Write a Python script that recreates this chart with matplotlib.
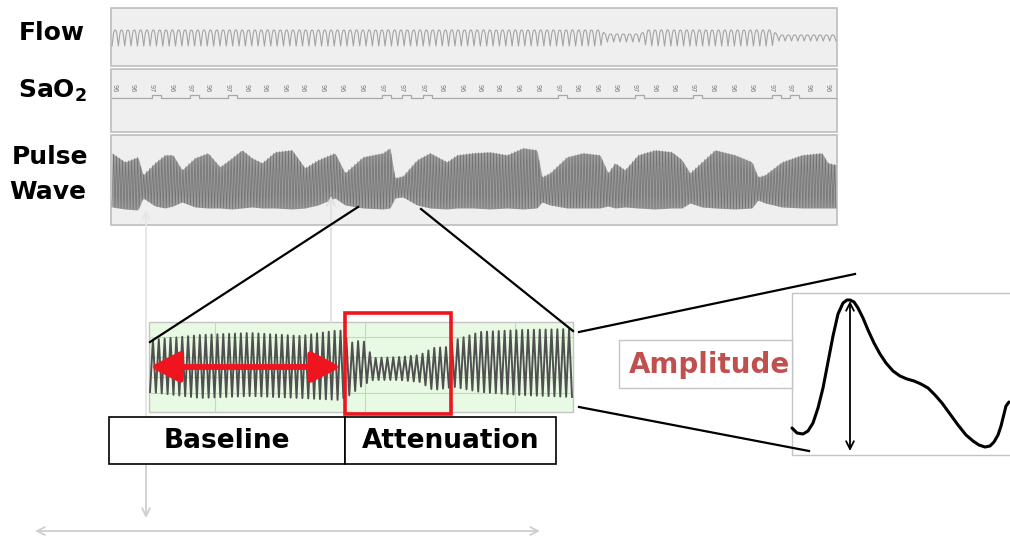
import matplotlib
matplotlib.use("Agg")
import matplotlib.pyplot as plt
import numpy as np
from matplotlib.patches import Rectangle, FancyArrowPatch

# ---- data (pixel coords of the original slide) ----
# panels of the overnight recording: (left, top, right, bottom)
flow_box = (111, 8, 837, 66)
sao2_box = (111, 69, 837, 132)
pulse_box = (111, 135, 837, 225)

# flow trace: number of breaths and amplitude knots
flow_cycles = 114
flow_knot_x = [111, 600, 606, 640, 648, 772, 778, 837]
flow_knot_amp = [8, 8, 4, 4, 8, 8, 3, 3]
flow_shape = [-1.0, -0.2, 0.6, 0.95, 1.0, 0.95, 0.6, -0.2]   # one breath

# SaO2 readings printed on the trace
sao2_x = [115, 133, 152, 172, 190, 208, 228, 247, 265, 285, 303, 323, 342, 362,
          382, 402, 423, 442, 462, 480, 498, 518, 538, 558, 577, 597, 616, 635,
          655, 674, 693, 713, 733, 752, 772, 790, 809, 828]
sao2_val = [96, 96, 97, 96, 97, 96, 97, 96, 96, 96, 96, 96, 96, 96,
            97, 97, 97, 96, 96, 96, 96, 96, 96, 97, 96, 96, 96, 97,
            96, 96, 97, 96, 96, 96, 97, 97, 96, 96]

# pulse wave envelope (upper / lower edge, y pixels)
pulse_beats = 240
pulse_env_x = [112, 125, 138, 143, 155, 165, 173, 182, 195, 208, 220, 232, 242,
               252, 262, 275, 292, 305, 318, 335, 345, 363, 383, 390, 395, 403,
               417, 430, 447, 457, 473, 490, 507, 523, 537, 542, 550, 567, 583,
               600, 608, 615, 625, 638, 655, 672, 682, 690, 702, 715, 735, 752,
               758, 765, 782, 802, 822, 828, 837]
pulse_env_top = [153, 162, 157, 175, 163, 155, 155, 170, 158, 153, 167, 158, 150,
                 158, 163, 152, 150, 168, 160, 153, 173, 157, 153, 148, 178, 176,
                 160, 153, 162, 155, 153, 152, 155, 148, 150, 177, 173, 157, 153,
                 155, 173, 163, 170, 155, 150, 152, 160, 173, 162, 150, 155, 162,
                 177, 175, 162, 155, 153, 163, 165]
pulse_env_bot = [207, 209, 210, 198, 206, 208, 206, 202, 207, 208, 208, 209, 208,
                 207, 208, 208, 209, 208, 205, 198, 205, 208, 209, 208, 198, 197,
                 205, 208, 209, 208, 208, 209, 208, 209, 208, 202, 205, 208, 208,
                 208, 206, 208, 207, 208, 209, 208, 208, 203, 207, 208, 209, 208,
                 200, 203, 207, 208, 208, 208, 208]

# zoomed segment (baseline + attenuation)
zoom_box = (149, 322, 573, 412)
zoom_beats = 72
zoom_env_x = [150, 200, 250, 300, 340, 350, 363, 373, 400, 420, 433, 447, 455,
              480, 520, 573]
zoom_env_top = [340, 335, 333, 336, 330, 343, 340, 358, 357, 355, 348, 347, 340,
                332, 330, 329]
zoom_env_bot = [392, 398, 396, 398, 400, 395, 385, 380, 380, 382, 390, 388, 387,
                392, 395, 397]
zoom_grid_x = [215, 365, 515]
zoom_grid_y = [337, 357, 377, 393]

# single pulse in the amplitude panel
beat_x = [792, 797, 803, 808, 813, 818, 823, 828, 833, 838, 843, 847, 850, 854,
          858, 863, 868, 874, 880, 886, 893, 900, 907, 914, 921, 928, 935, 942,
          950, 958, 966, 973, 979, 985, 990, 994, 998, 1001, 1004, 1006, 1009]
beat_y = [428, 433, 434, 431, 423, 408, 388, 362, 336, 314, 303, 300, 300, 302,
          308, 318, 330, 343, 354, 363, 371, 376, 379, 381, 384, 388, 395, 403,
          414, 425, 435, 441, 445, 447, 446, 442, 435, 426, 414, 406, 402]

panel_face = "#efefef"
panel_edge = "#bdbdbd"
red = "#f0141e"


def envelope_zigzag(x0, x1, n, kx, top, bot):
    xs = np.linspace(x0, x1, 2 * n + 1)
    up = np.interp(xs, kx, top)
    lo = np.interp(xs, kx, bot)
    ys = np.where(np.arange(len(xs)) % 2 == 0, lo, up)
    return xs, ys


def box(b, face=panel_face, edge=panel_edge, lw=1.2, z=1):
    ax.add_patch(Rectangle((b[0], b[1]), b[2] - b[0], b[3] - b[1],
                           facecolor=face, edgecolor=edge, lw=lw, zorder=z))


fig = plt.figure(figsize=(10.1, 5.38), dpi=100)
ax = fig.add_axes([0, 0, 1, 1])
ax.set_xlim(0, 1010)
ax.set_ylim(538, 0)
ax.axis("off")

# labels on the left
lab = dict(fontsize=18, fontweight="bold", ha="center", va="center", color="black")
ax.text(52, 33, "Flow", **lab)
ax.text(52, 91, r"SaO$_{\mathbf{2}}$", **lab)
ax.text(50, 157, "Pulse", **lab)
ax.text(48, 192, "Wave", **lab)

# --- flow panel
box(flow_box)
n_pts = flow_cycles * len(flow_shape) + 1
fx = np.linspace(flow_box[0] + 1, flow_box[2] - 1, n_pts)
famp = np.interp(fx, flow_knot_x, flow_knot_amp)
fshape = np.array(flow_shape * flow_cycles + flow_shape[:1])
ax.plot(fx, 38 - famp * fshape, color="#a4a4a4", lw=0.8, zorder=2)

# --- SaO2 panel
box(sao2_box)
sx, sy = [sao2_box[0] + 1], [98]
for x, v in zip(sao2_x, sao2_val):
    ax.text(x, 88, str(v), fontsize=4.8, rotation=-90, color="#7a7a7a",
            ha="center", va="center", zorder=3)
    if v == 97:
        sx += [x, x, x + 9, x + 9]
        sy += [98, 95, 95, 98]
sx.append(sao2_box[2] - 1)
sy.append(98)
ax.plot(sx, sy, color="#a8a8a8", lw=0.9, zorder=2)

# --- pulse wave panel
box(pulse_box)
px = np.linspace(pulse_box[0] + 1, pulse_box[2] - 1, 600)
ax.fill_between(px, np.interp(px, pulse_env_x, pulse_env_top),
                np.interp(px, pulse_env_x, pulse_env_bot),
                color="#9c9c9c", lw=0, zorder=2)
zx, zy = envelope_zigzag(pulse_box[0] + 1, pulse_box[2] - 1, pulse_beats,
                         pulse_env_x, pulse_env_top, pulse_env_bot)
ax.plot(zx, zy, color="#646464", lw=0.5, alpha=0.75, zorder=3)

# --- grey guide arrows
grey = "#cfcfcf"
ax.annotate("", xy=(146, 210), xytext=(146, 420),
            arrowprops=dict(arrowstyle="->", color="#e6e6e6", lw=1.3,
                            shrinkA=0, shrinkB=0, mutation_scale=14), zorder=4)
ax.annotate("", xy=(146, 518), xytext=(146, 418),
            arrowprops=dict(arrowstyle="->", color=grey, lw=1.3,
                            shrinkA=0, shrinkB=0, mutation_scale=14), zorder=4)
ax.annotate("", xy=(331, 196), xytext=(331, 322),
            arrowprops=dict(arrowstyle="->", color="#e0e0e0", lw=1.3,
                            shrinkA=0, shrinkB=0, mutation_scale=14), zorder=4)
ax.annotate("", xy=(540, 531), xytext=(35, 531),
            arrowprops=dict(arrowstyle="<->", color=grey, lw=1.3,
                            shrinkA=0, shrinkB=0, mutation_scale=14), zorder=4)

# --- black connector lines
ax.plot([358, 150], [207, 342], color="black", lw=1.6, zorder=5)
ax.plot([421, 573], [209, 331], color="black", lw=1.6, zorder=5)
ax.plot([579, 855], [332, 274], color="black", lw=1.6, zorder=5)
ax.plot([579, 809], [407, 451], color="black", lw=1.6, zorder=5)

# --- zoomed segment
box(zoom_box, face="#e9fae4", edge="#c4c4c4", lw=1.0, z=3)
for gx in zoom_grid_x:
    ax.plot([gx, gx], [zoom_box[1], zoom_box[3]], color="#a9eca0", lw=0.8, zorder=3)
for gy in zoom_grid_y:
    ax.plot([zoom_box[0], zoom_box[2]], [gy, gy], color="#a9eca0", lw=0.8, zorder=3)
zx, zy = envelope_zigzag(150, 572, zoom_beats, zoom_env_x, zoom_env_top, zoom_env_bot)
ax.plot(zx, zy, color="#505050", lw=1.4, zorder=4)

ax.add_patch(Rectangle((345, 313), 106, 101, facecolor="none", edgecolor=red,
                       lw=2.6, zorder=6))
ax.add_patch(FancyArrowPatch((150, 367), (341, 367),
                             arrowstyle="<|-|>,head_length=0.8,head_width=0.42",
                             mutation_scale=22, color=red, lw=4.2,
                             shrinkA=0, shrinkB=0, zorder=6))

# --- Baseline / Attenuation boxes
box((109, 417, 345, 464), face="white", edge="black", lw=1.2, z=5)
box((345, 417, 556, 464), face="white", edge="black", lw=1.2, z=5)
ax.text(227, 441, "Baseline", fontsize=19, fontweight="bold", ha="center",
        va="center", zorder=6)
ax.text(451, 441, "Attenuation", fontsize=19, fontweight="bold", ha="center",
        va="center", zorder=6)

# --- amplitude panel
box((792, 293, 1015, 455), face="white", edge="#c4c4c4", lw=1.0, z=2)
box((619, 340, 792, 388), face="white", edge="#c4c4c4", lw=1.0, z=2)
ax.text(709, 365, "Amplitude", fontsize=20, fontweight="bold", color="#c0504d",
        ha="center", va="center", zorder=6)
ax.plot(beat_x, beat_y, color="black", lw=2.2, zorder=5,
        solid_capstyle="round", solid_joinstyle="round")
ax.annotate("", xy=(850, 301), xytext=(850, 451),
            arrowprops=dict(arrowstyle="<->", color="black", lw=1.3,
                            shrinkA=0, shrinkB=0, mutation_scale=14), zorder=6)

fig.savefig("out.png", dpi=100)
